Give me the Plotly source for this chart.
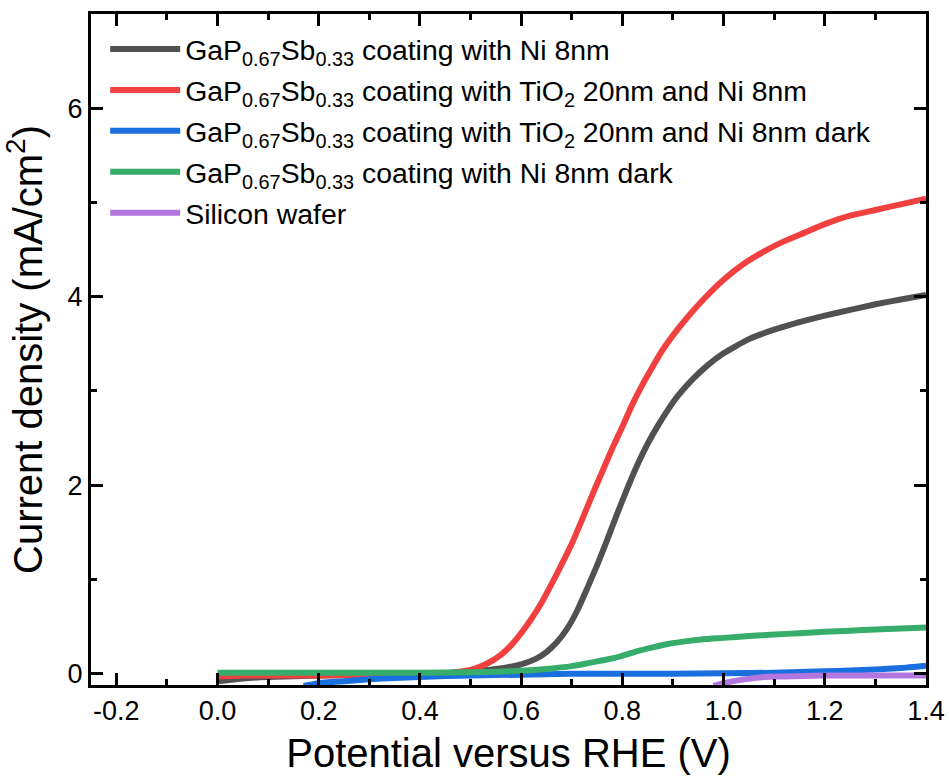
import plotly.graph_objects as go

# ---- data ----
gray_x = [0.0, 0.05, 0.1, 0.2, 0.3, 0.4, 0.45, 0.5, 0.55, 0.6, 0.63, 0.65, 0.67, 0.69, 0.71, 0.73, 0.75,
          0.77, 0.79, 0.81, 0.83, 0.85, 0.87, 0.89, 0.91, 0.94, 0.97, 1.0, 1.05, 1.1, 1.15, 1.2, 1.25,
          1.3, 1.35, 1.4]
gray_y = [-0.08, -0.05, -0.035, -0.02, -0.01, 0.0, 0.005, 0.02, 0.05, 0.10, 0.16, 0.23, 0.33, 0.47, 0.66,
          0.90, 1.15, 1.42, 1.70, 1.97, 2.22, 2.44, 2.63, 2.80, 2.95, 3.13, 3.28, 3.40, 3.55, 3.65, 3.73,
          3.80, 3.86, 3.92, 3.97, 4.02]

red_x = [0.0, 0.05, 0.1, 0.2, 0.3, 0.4, 0.45, 0.5, 0.53, 0.56, 0.58, 0.6, 0.62, 0.64, 0.66, 0.68, 0.70,
         0.72, 0.74, 0.76, 0.78, 0.80, 0.82, 0.84, 0.86, 0.88, 0.90, 0.93, 0.96, 1.0, 1.04, 1.08, 1.12,
         1.16, 1.2, 1.25, 1.3, 1.35, 1.4]
red_y = [-0.03, -0.02, -0.02, -0.02, -0.015, -0.01, 0.0, 0.04, 0.10, 0.20, 0.30, 0.43, 0.58, 0.75, 0.95,
         1.16, 1.38, 1.63, 1.89, 2.14, 2.39, 2.62, 2.86, 3.07, 3.26, 3.44, 3.59, 3.79, 3.97, 4.18, 4.35,
         4.48, 4.59, 4.68, 4.77, 4.86, 4.92, 4.98, 5.04]

blue_x = [0.17, 0.2, 0.25, 0.3, 0.35, 0.4, 0.45, 0.5, 0.6, 0.7, 0.8, 0.9, 1.0, 1.1, 1.2, 1.25, 1.3, 1.35, 1.4]
blue_y = [-0.13, -0.10, -0.08, -0.06, -0.045, -0.035, -0.025, -0.02, -0.01, 0.0, 0.0, 0.0, 0.005, 0.01,
          0.025, 0.035, 0.045, 0.06, 0.085]

green_x = [0.0, 0.1, 0.2, 0.3, 0.4, 0.5, 0.55, 0.6, 0.65, 0.7, 0.74, 0.77, 0.80, 0.83, 0.86, 0.89, 0.92,
           0.96, 1.0, 1.05, 1.1, 1.15, 1.2, 1.25, 1.3, 1.35, 1.4]
green_y = [0.01, 0.01, 0.01, 0.01, 0.01, 0.015, 0.02, 0.03, 0.05, 0.08, 0.12, 0.15, 0.19, 0.24, 0.28, 0.315,
           0.34, 0.365, 0.38, 0.40, 0.415, 0.43, 0.445, 0.455, 0.47, 0.48, 0.49]

purple_x = [0.98, 1.0, 1.04, 1.08, 1.12, 1.16, 1.2, 1.3, 1.4]
purple_y = [-0.13, -0.10, -0.06, -0.035, -0.03, -0.025, -0.02, -0.02, -0.02]

names = [
    "GaP<sub>0.67</sub>Sb<sub>0.33</sub> coating with Ni 8nm",
    "GaP<sub>0.67</sub>Sb<sub>0.33</sub> coating with TiO<sub>2</sub> 20nm and Ni 8nm",
    "GaP<sub>0.67</sub>Sb<sub>0.33</sub> coating with TiO<sub>2</sub> 20nm and Ni 8nm dark",
    "GaP<sub>0.67</sub>Sb<sub>0.33</sub> coating with Ni 8nm dark",
    "Silicon wafer",
]
colors = ["#515151", "#F14040", "#1A6FDF", "#37AD6B", "#B177DE"]
series = [(gray_x, gray_y), (red_x, red_y), (blue_x, blue_y), (green_x, green_y), (purple_x, purple_y)]

x_ticks = [-0.2, 0.0, 0.2, 0.4, 0.6, 0.8, 1.0, 1.2, 1.4]
y_ticks = [0, 2, 4, 6]

FONT = "Liberation Sans, Arial, sans-serif"

fig = go.Figure()
for i, ((xs, ys), nm, c) in enumerate(zip(series, names, colors)):
    fig.add_trace(go.Scatter(x=xs, y=ys, mode="lines", name=nm, legendgroup=f"g{i}",
                             line=dict(color=c, width=6, shape="spline", smoothing=0.5)))

axis_common = dict(
    showline=True, linecolor="black", linewidth=3, mirror="allticks",
    ticks="inside", ticklen=12, tickwidth=3, tickcolor="black",
    showgrid=False, zeroline=False, automargin=False,
    tickfont=dict(family=FONT, size=27, color="black"),
)

fig.update_xaxes(
    range=[-0.25, 1.4], tickvals=x_ticks, ticktext=[f"{v:.1f}" for v in x_ticks],
    minor=dict(dtick=0.1, tick0=0, ticks="inside", ticklen=6, tickwidth=3, tickcolor="black", showgrid=False),
    title=dict(text="Potential versus RHE (V)", font=dict(family=FONT, size=40, color="black"), standoff=14),
    **axis_common,
)
fig.update_yaxes(
    range=[-0.12, 7.0], tickvals=y_ticks, ticktext=[str(v) for v in y_ticks],
    minor=dict(dtick=1, tick0=0, ticks="inside", ticklen=6, tickwidth=3, tickcolor="black", showgrid=False),
    title=dict(text="Current density (mA/cm<sup>2</sup>)", font=dict(family=FONT, size=40, color="black"), standoff=16),
    **axis_common,
)

fig.update_layout(
    width=949, height=782,
    margin=dict(l=91, r=23, t=14, b=97),
    paper_bgcolor="white", plot_bgcolor="white",
    showlegend=True,
    legend=dict(x=0.017, y=0.985, xanchor="left", yanchor="top",
                bgcolor="rgba(0,0,0,0)", borderwidth=0, itemwidth=70,
                font=dict(family=FONT, size=28.4, color="black"), tracegroupgap=1),
)

fig.write_html("out.html")
